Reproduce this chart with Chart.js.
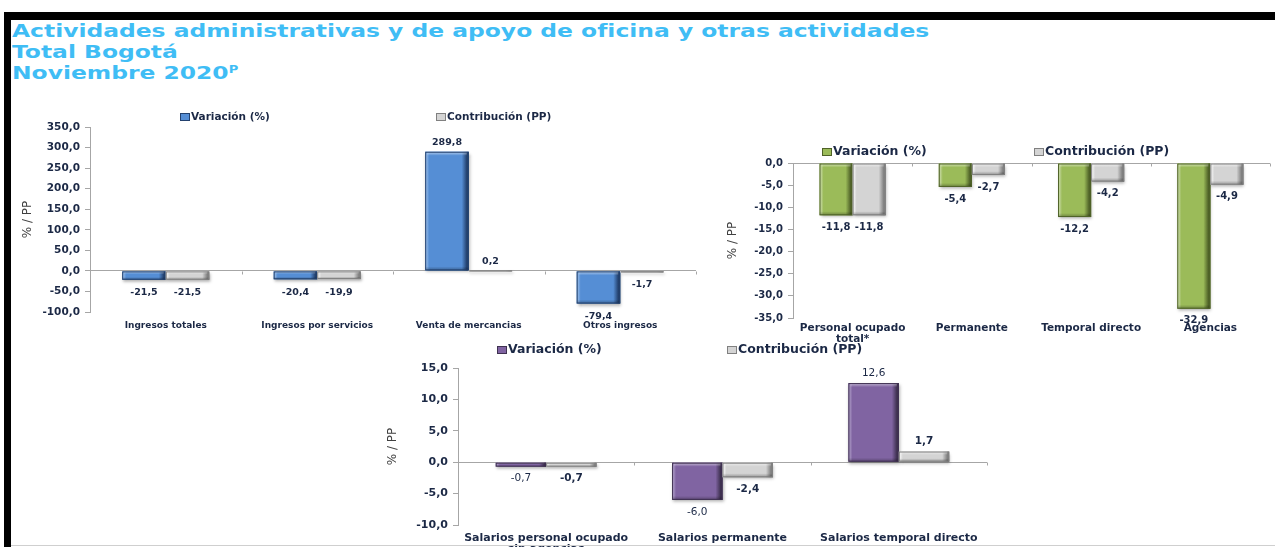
<!DOCTYPE html>
<html lang="es">
<head>
<meta charset="utf-8">
<title>Actividades administrativas - Total Bogotá - Noviembre 2020</title>
<script src="https://cdn.jsdelivr.net/npm/chart.js@4.4.1/dist/chart.umd.min.js"></script>
<style>
  html, body { margin: 0; padding: 0; background: #fff; }
  body { width: 1275px; height: 547px; position: relative; overflow: hidden; font-family: 'DejaVu Sans', sans-serif; }
  .marco-top { position: absolute; left: 4px; top: 12px; width: 1271px; height: 8px; background: #000; }
  .marco-izq { position: absolute; left: 4px; top: 12px; width: 7px; height: 535px; background: #000; }
  .marco-base { position: absolute; left: 11px; top: 545px; width: 1264px; height: 1px; background: #cfcfcf; z-index: 5; }
  .titulo { position: absolute; left: 12px; top: 20px; color: #3fbdf5; font: bold 18px/21px 'DejaVu Sans', sans-serif;
            transform: scaleX(1.3); transform-origin: 0 0; white-space: nowrap; }
  .titulo sup { font-size: 10px; vertical-align: 6px; line-height: 0; }
  canvas { position: absolute; }
</style>
</head>
<body>
<div class="marco-top"></div>
<div class="marco-izq"></div>
<div class="marco-base"></div>
<div class="titulo">
  Actividades administrativas y de apoyo de oficina y otras actividades<br>
  Total Bogotá<br>
  Noviembre 2020<sup>P</sup>
</div>

<canvas id="chartIngresos" width="710" height="240" style="left:0;top:100px"></canvas>
<canvas id="chartPersonal" width="575" height="220" style="left:700px;top:130px"></canvas>
<canvas id="chartSalarios" width="640" height="212" style="left:370px;top:335px"></canvas>

<script>
// --- datos ---
const seriesLabels = ['Variación (%)', 'Contribución (PP)'];

const categoriasIngresos = ['Ingresos totales', 'Ingresos por servicios', 'Venta de mercancias', 'Otros ingresos'];
const variacionIngresos = [-21.5, -20.4, 289.8, -79.4];
const contribucionIngresos = [-21.5, -19.9, 0.2, -1.7];
const ticksIngresos = [-100, -50, 0, 50, 100, 150, 200, 250, 300, 350];

const categoriasPersonal = [['Personal ocupado', 'total*'], 'Permanente', 'Temporal directo', 'Agencias'];
const variacionPersonal = [-11.8, -5.4, -12.2, -32.9];
const contribucionPersonal = [-11.8, -2.7, -4.2, -4.9];
const ticksPersonal = [-35, -30, -25, -20, -15, -10, -5, 0];

const categoriasSalarios = [['Salarios personal ocupado', 'sin agencias'], 'Salarios permanente', 'Salarios temporal directo'];
const variacionSalarios = [-0.7, -6.0, 12.6];
const contribucionSalarios = [-0.7, -2.4, 1.7];
const ticksSalarios = [-10, -5, 0, 5, 10, 15];

// --- estilos ---
const textColor = '#1b2845';
const axisColor = '#a6a6a6';
const azul = { light: '#a9c8ee', mid: '#558ed5', dark: '#23416e' };
const verde = { light: '#d7e4bd', mid: '#9bbb59', dark: '#4f6228' };
const morado = { light: '#bcaed3', mid: '#8064a2', dark: '#3f3151' };
const gris = { light: '#ffffff', mid: '#d4d4d4', dark: '#808080' };

const fmt = v => v.toFixed(1).replace('.', ',');
const df = "'DejaVu Sans', sans-serif";

// barras con relieve tipo Excel, dibujadas sobre las posiciones de Chart.js
const bevelBars = {
  id: 'bevelBars',
  afterDatasetsDraw(chart) {
    const ctx = chart.ctx;
    chart.data.datasets.forEach((ds, di) => {
      const c = ds.bevel;
      chart.getDatasetMeta(di).data.forEach(bar => {
        const p = bar.getProps(['x', 'y', 'base', 'width'], true);
        const l = p.x - p.width / 2, r = p.x + p.width / 2;
        const t = Math.min(p.y, p.base), b = Math.max(p.y, p.base);
        const w = r - l, h = Math.max(b - t, 1);
        ctx.save();
        ctx.shadowColor = 'rgba(0,0,0,0.3)';
        ctx.shadowBlur = 3; ctx.shadowOffsetX = 1; ctx.shadowOffsetY = 2;
        const g = ctx.createLinearGradient(l, 0, r, 0);
        g.addColorStop(0, c.light);
        g.addColorStop(Math.min(0.4, 4 / w), c.mid);
        g.addColorStop(Math.max(0.6, 1 - 7 / w), c.mid);
        g.addColorStop(Math.max(0.7, 1 - 2 / w), c.dark);
        g.addColorStop(1, c.dark);
        ctx.fillStyle = g;
        ctx.fillRect(l, t, w, h);
        ctx.shadowColor = 'transparent';
        const e = Math.min(4, h / 3);
        const gt = ctx.createLinearGradient(0, t, 0, t + e);
        gt.addColorStop(0, 'rgba(255,255,255,0.55)');
        gt.addColorStop(1, 'rgba(255,255,255,0)');
        ctx.fillStyle = gt;
        ctx.fillRect(l + 2, t, w - 4, e);
        const gb = ctx.createLinearGradient(0, b - e, 0, b);
        gb.addColorStop(0, 'rgba(0,0,0,0)');
        gb.addColorStop(1, 'rgba(0,0,0,0.3)');
        ctx.fillStyle = gb;
        ctx.fillRect(l, b - e, w, e);
        ctx.strokeStyle = c.dark;
        ctx.lineWidth = 1;
        ctx.strokeRect(l + 0.5, t + 0.5, w - 1, h - 1);
        ctx.restore();
      });
    });
  }
};

// etiquetas de valor en el extremo de cada barra
const valueLabels = {
  id: 'valueLabels',
  afterDatasetsDraw(chart, args, opts) {
    const ctx = chart.ctx;
    ctx.save();
    ctx.textAlign = 'center';
    ctx.textBaseline = 'middle';
    ctx.fillStyle = textColor;
    chart.data.datasets.forEach((ds, di) => {
      ctx.font = opts.fonts[di];
      chart.getDatasetMeta(di).data.forEach((bar, i) => {
        const v = ds.data[i];
        const y = v < 0 ? bar.y + opts.below : bar.y - opts.above;
        ctx.fillText(fmt(v), bar.x, y);
      });
    });
    ctx.restore();
  }
};

// leyenda con los elementos separados como en el original
const pairLegend = {
  id: 'pairLegend',
  afterDraw(chart, args, opts) {
    const ctx = chart.ctx;
    ctx.save();
    ctx.font = opts.labelFont;
    ctx.textBaseline = 'middle';
    ctx.textAlign = 'left';
    chart.data.datasets.forEach((ds, i) => {
      const x = opts.xs[i], y = opts.y;
      ctx.fillStyle = ds.bevel.mid;
      ctx.fillRect(x, y - 4, 10, 8);
      ctx.strokeStyle = ds.bevel.dark;
      ctx.lineWidth = 1;
      ctx.strokeRect(x + 0.5, y - 3.5, 9, 7);
      ctx.fillStyle = textColor;
      ctx.fillText(ds.label, x + 11, y);
    });
    ctx.restore();
  }
};

// marcas del eje de categorías sobre la línea del cero
const zeroMarks = {
  id: 'zeroMarks',
  beforeDatasetsDraw(chart) {
    const { ctx, scales: { x, y } } = chart;
    const y0 = Math.round(y.getPixelForValue(0)) + 0.5;
    ctx.save();
    ctx.strokeStyle = axisColor;
    ctx.lineWidth = 1;
    for (let i = 0; i <= chart.data.labels.length; i++) {
      const px = Math.round(x.getPixelForValue(i - 0.5)) + 0.5;
      ctx.beginPath();
      ctx.moveTo(px, y0);
      ctx.lineTo(px, y0 + 3);
      ctx.stroke();
    }
    ctx.restore();
  }
};

function barChart(id, cfg) {
  return new Chart(document.getElementById(id), {
    type: 'bar',
    data: {
      labels: cfg.labels,
      datasets: [
        { label: seriesLabels[0], data: cfg.variacion, backgroundColor: cfg.color.mid, bevel: cfg.color,
          categoryPercentage: cfg.catPct, barPercentage: 1 },
        { label: seriesLabels[1], data: cfg.contribucion, backgroundColor: gris.mid, bevel: gris,
          categoryPercentage: cfg.catPct, barPercentage: 1 }
      ]
    },
    options: {
      responsive: false,
      animation: false,
      devicePixelRatio: 1,
      layout: { padding: { top: cfg.top, right: cfg.right, left: 0, bottom: 0 } },
      plugins: {
        legend: { display: false },
        tooltip: { enabled: false },
        valueLabels: { fonts: cfg.valueFonts, below: cfg.below, above: cfg.above },
        pairLegend: { xs: cfg.legendX, y: cfg.legendY, labelFont: cfg.legendFont }
      },
      scales: {
        x: {
          grid: { display: false, drawTicks: false },
          border: { display: false },
          ticks: {
            autoSkip: false, maxRotation: 0, minRotation: 0,
            padding: cfg.xPad, color: textColor,
            font: { family: df, size: cfg.xSize, weight: 'bold', lineHeight: 1.05 }
          },
          afterFit: s => { s.height = cfg.xHeight; }
        },
        y: {
          min: cfg.ticks[0],
          max: cfg.ticks[cfg.ticks.length - 1],
          afterBuildTicks: s => { s.ticks = cfg.ticks.map(v => ({ value: v })); },
          afterFit: s => { s.width = cfg.left; },
          border: { display: true, color: axisColor },
          grid: {
            color: c => (c.tick && c.tick.value === 0) ? axisColor : 'rgba(0,0,0,0)',
            tickColor: axisColor,
            tickLength: 5
          },
          ticks: {
            padding: 5, color: textColor,
            font: { family: df, size: cfg.ySize, weight: 'bold' },
            callback: v => fmt(v)
          },
          title: {
            display: true, text: '% / PP', color: '#404040',
            font: { family: df, size: 12 },
            padding: { top: cfg.titlePad, bottom: 0 }
          }
        }
      }
    },
    plugins: [zeroMarks, bevelBars, valueLabels, pairLegend]
  });
}

barChart('chartIngresos', {
  labels: categoriasIngresos, variacion: variacionIngresos, contribucion: contribucionIngresos,
  ticks: ticksIngresos, color: azul, catPct: 0.575,
  left: 90, top: 27, right: 14, xHeight: 28, xPad: 9, xSize: 9, ySize: 10.5, titlePad: 21,
  valueFonts: ['bold 9.5px ' + df, 'bold 9.5px ' + df], below: 13, above: 9,
  legendX: [180, 436], legendY: 17, legendFont: 'bold 10.5px ' + df
});

barChart('chartPersonal', {
  labels: categoriasPersonal, variacion: variacionPersonal, contribucion: contribucionPersonal,
  ticks: ticksPersonal, color: verde, catPct: 0.555,
  left: 93, top: 33, right: 5, xHeight: 32, xPad: 5, xSize: 10.5, ySize: 10, titlePad: 26,
  valueFonts: ['bold 10px ' + df, 'bold 10px ' + df], below: 12, above: 10,
  legendX: [122, 334], legendY: 22, legendFont: 'bold 12.5px ' + df
});

barChart('chartSalarios', {
  labels: categoriasSalarios, variacion: variacionSalarios, contribucion: contribucionSalarios,
  ticks: ticksSalarios, color: morado, catPct: 0.572,
  left: 88, top: 33, right: 23, xHeight: 22, xPad: 7, xSize: 11, ySize: 11, titlePad: 16,
  valueFonts: ['10.5px ' + df, 'bold 10.5px ' + df], below: 12, above: 10,
  legendX: [127, 357], legendY: 15, legendFont: 'bold 12.5px ' + df
});
</script>
</body>
</html>
